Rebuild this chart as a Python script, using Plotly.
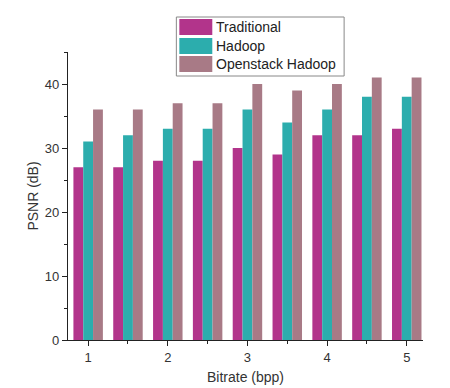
import plotly.graph_objects as go

bitrate = [1, 1.5, 2, 2.5, 3, 3.5, 4, 4.5, 5]
traditional = [27, 27, 28, 28, 30, 29, 32, 32, 33]
hadoop = [31, 32, 33, 33, 36, 34, 36, 38, 38]
openstack = [36, 36, 37, 37, 40, 39, 40, 41, 41]
series_names = ["Traditional", "Hadoop", "Openstack Hadoop"]
colors = ["#B2348B", "#2CADAD", "#A87A86"]

W, H = 450, 388
L, R, T, B = 67.5, 423, 52, 340

fig = go.Figure()
for name, vals, c in zip(series_names, [traditional, hadoop, openstack], colors):
    fig.add_trace(go.Bar(x=bitrate, y=vals, name=name, marker_color=c,
                         marker_line_width=0, showlegend=False))

def px(x):
    return (x - L) / (R - L)

def py(y):
    return (B - y) / (B - T)

shapes = [dict(type="rect", xref="paper", yref="paper",
               x0=px(176), x1=px(344), y0=py(76), y1=py(17),
               line=dict(color="#888888", width=1), fillcolor="white")]
annotations = []
rows = [(19, 35), (38, 54), (56, 72)]
for (y0, y1), name, c in zip(rows, series_names, colors):
    shapes.append(dict(type="rect", xref="paper", yref="paper",
                       x0=px(179), x1=px(212), y0=py(y1), y1=py(y0),
                       line=dict(width=0), fillcolor=c))
    annotations.append(dict(xref="paper", yref="paper", x=px(214), y=py((y0 + y1) / 2),
                            text=name, showarrow=False, xanchor="left", yanchor="middle",
                            font=dict(family="Liberation Sans, Arial", size=14, color="#222222")))

fig.update_layout(
    width=W, height=H,
    margin=dict(l=L, r=W - R, t=T, b=H - B, autoexpand=False),
    paper_bgcolor="white", plot_bgcolor="white",
    barmode="group", bargap=0.26, bargroupgap=0,
    font=dict(family="Liberation Sans, Arial", size=13, color="#333333"),
    shapes=shapes, annotations=annotations,
    xaxis=dict(range=[0.747, 5.204], tickvals=[1, 2, 3, 4, 5], ticks="outside", ticklen=5,
               tickcolor="#222222", showline=True, linecolor="#222222", linewidth=1.2,
               showgrid=False, zeroline=False, automargin=False,
               minor=dict(tickvals=[1.5, 2.5, 3.5, 4.5], ticks="outside", ticklen=3, tickcolor="#222222"),
               title=dict(text="Bitrate (bpp)", font=dict(size=14, color="#333333"), standoff=8),
               tickfont=dict(size=13, color="#333333")),
    yaxis=dict(range=[0, 45], tickvals=[0, 10, 20, 30, 40], ticks="outside", ticklen=5,
               tickcolor="#222222", showline=True, linecolor="#222222", linewidth=1.2,
               showgrid=False, zeroline=False, automargin=False,
               minor=dict(tickvals=[5, 15, 25, 35, 45], ticks="outside", ticklen=3, tickcolor="#222222"),
               title=dict(text="PSNR (dB)", font=dict(size=14, color="#333333"), standoff=2),
               tickfont=dict(size=13, color="#333333")),
)

fig.write_html("out.html", config={"displayModeBar": False},
               post_script="document.body.style.margin='0';")
